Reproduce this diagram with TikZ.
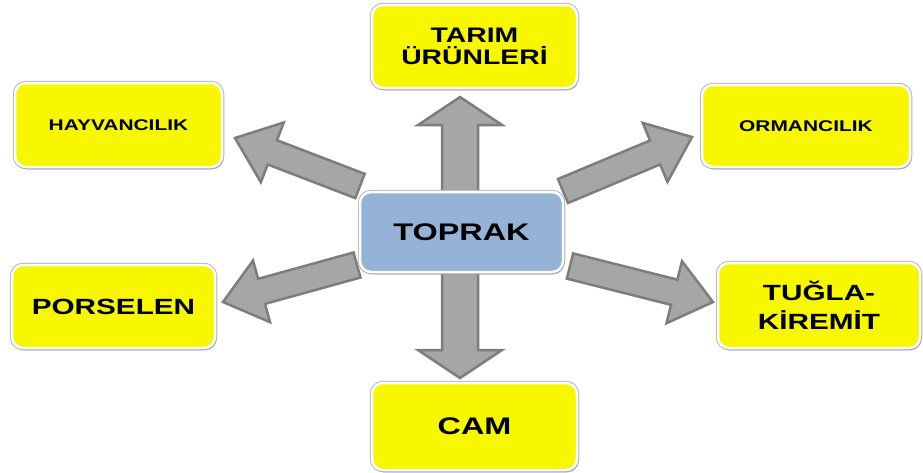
\documentclass[tikz,border=0pt]{standalone}
\usepackage{fontspec}
\setmainfont{Liberation Sans}[FakeStretch=1.35]
\usetikzlibrary{calc,shadows}
\pgfdeclarelayer{bg}
\pgfsetlayers{bg,main}
\definecolor{boxyellow}{RGB}{247,247,0}
\definecolor{boxblue}{RGB}{149,179,215}
\definecolor{arrfill}{RGB}{166,166,166}
\definecolor{arrline}{RGB}{125,125,125}
\newcommand\blkarrow[5]{%
  \coordinate (hb) at ($(#2)!#5!(#1)$);
  \filldraw[arrowstyle]
    ($(#1)!#3!90:(#2)$) -- ($(hb)!#3!90:(#2)$) -- ($(hb)!#4!90:(#2)$) --
    (#2) -- ($(hb)!#4!-90:(#2)$) -- ($(hb)!#3!-90:(#2)$) --
    ($(#1)!#3!-90:(#2)$) -- cycle;}
\tikzset{
  card/.style={rounded corners=11pt, draw=white, line width=2.5pt,
    preaction={draw=gray!55, line width=4.5pt},
    drop shadow={opacity=0.35, shadow xshift=1.5pt, shadow yshift=-2.5pt},
    align=center, inner sep=0pt},
  ybox/.style={card, fill=boxyellow},
  bbox/.style={card, fill=boxblue},
  fs/.style={font=\bfseries\fontsize{#1}{#1}\selectfont},
  arrowstyle/.style={fill=arrfill, draw=arrline, line width=2.5pt, line join=miter},
}
\begin{document}
\begin{tikzpicture}[x=1pt,y=-1pt]
\useasboundingbox (0,0) rectangle (923,472);
\node[bbox, fs=24, minimum width=203pt, minimum height=80pt] (toprak) at (461.5,232)
  {TOPRAK};
\node[ybox, fs=21, minimum width=205pt, minimum height=83pt] (tarim) at (474.5,46.5)
  {TARIM\\[1pt]ÜRÜNLERİ};
\node[ybox, fs=15.5, minimum width=207pt, minimum height=84pt] (hay) at (118.5,125)
  {HAYVANCILIK};
\node[ybox, fs=15.5, minimum width=208pt, minimum height=82pt] (orm) at (806,126)
  {ORMANCILIK};
\node[ybox, fs=22, minimum width=203pt, minimum height=83pt] (pors) at (113.5,306.5)
  {PORSELEN};
\node[ybox, fs=22, minimum width=202pt, minimum height=85pt] (tugla) at (819,305.5)
  {TUĞLA-\\[7pt]KİREMİT};
\node[ybox, fs=24, minimum width=205pt, minimum height=87pt] (cam) at (474.5,426.5)
  {CAM};
% arrow ends
\coordinate (upT) at (460,194);   \coordinate (upH) at (460,97);
\coordinate (dnT) at (460,270);   \coordinate (dnH) at (460,378);
\coordinate (ulT) at (360,186);   \coordinate (ulH) at (235,138);
\coordinate (urT) at (563,191);   \coordinate (urH) at (692,137);
\coordinate (dlT) at (357,265);   \coordinate (dlH) at (223,302);
\coordinate (drT) at (570,266);   \coordinate (drH) at (713,302);
\begin{pgfonlayer}{bg}
\blkarrow{upT}{upH}{18pt}{42pt}{28pt}
\blkarrow{dnT}{dnH}{18pt}{42pt}{28pt}
\blkarrow{ulT}{ulH}{13pt}{32pt}{40pt}
\blkarrow{urT}{urH}{13pt}{32pt}{40pt}
\blkarrow{dlT}{dlH}{13pt}{32pt}{40pt}
\blkarrow{drT}{drH}{13pt}{32pt}{40pt}
\end{pgfonlayer}
\end{tikzpicture}
\end{document}
